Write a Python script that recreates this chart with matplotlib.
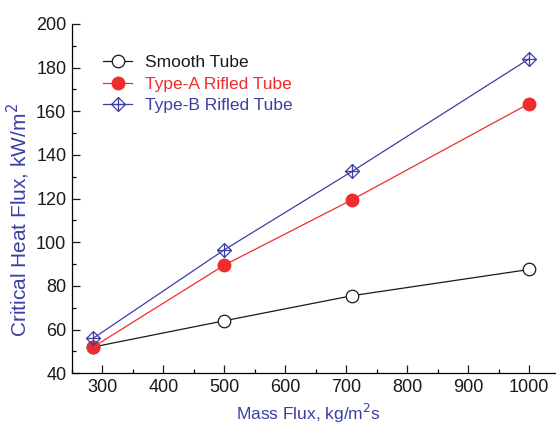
import matplotlib
matplotlib.use("Agg")
import matplotlib.pyplot as plt
from matplotlib.path import Path
from matplotlib.ticker import MultipleLocator

plt.rcParams['font.family'] = ['Liberation Sans', 'DejaVu Sans']

mass_flux = [285, 500, 710, 1000]
smooth = [52, 64, 75.5, 87.5]
type_a = [52, 89.5, 119.5, 163.5]
type_b = [56, 96.5, 132.5, 184]
labels = ["Smooth Tube", "Type-A Rifled Tube", "Type-B Rifled Tube"]

black = "#1a1a1a"
red = "#ee2d2d"
blue = "#3b3fa5"

diamond_plus = Path(
    [(0, 1), (1, 0), (0, -1), (-1, 0), (0, 1), (0, 1), (0, -1), (-1, 0), (1, 0)],
    [Path.MOVETO, Path.LINETO, Path.LINETO, Path.LINETO, Path.CLOSEPOLY,
     Path.MOVETO, Path.LINETO, Path.MOVETO, Path.LINETO])

fig = plt.figure(figsize=(5.57, 4.26), dpi=100)
ax = fig.add_axes([0.129, 0.124, 0.867, 0.82])

ax.plot(mass_flux, smooth, color=black, lw=0.9, marker='o', ms=9,
        mfc='white', mec=black, mew=0.9, label=labels[0])
ax.plot(mass_flux, type_a, color=red, lw=0.9, marker='o', ms=9,
        mfc=red, mec=red, label=labels[1])
ax.plot(mass_flux, type_b, color=blue, lw=0.9, marker=diamond_plus, ms=10,
        mfc='none', mec=blue, mew=0.9, label=labels[2])

ax.set_xlim(250, 1042)
ax.set_ylim(40, 200)
ax.xaxis.set_major_locator(MultipleLocator(100))
ax.xaxis.set_minor_locator(MultipleLocator(50))
ax.yaxis.set_major_locator(MultipleLocator(20))
ax.yaxis.set_minor_locator(MultipleLocator(10))
ax.tick_params(which='major', direction='in', length=6, width=0.9, labelsize=13,
               colors=black, pad=4)
ax.tick_params(which='minor', direction='in', length=3, width=0.9)
ax.spines['top'].set_visible(False)
ax.spines['right'].set_visible(False)
for s in ('left', 'bottom'):
    ax.spines[s].set_linewidth(0.9)

ax.set_xlabel("Mass Flux, kg/m$^2$s", color=blue, fontsize=12.5)
ax.xaxis.set_label_coords(0.49, -0.083)
ax.set_ylabel("Critical Heat Flux, kW/m$^2$", color=blue, fontsize=15)
ax.yaxis.set_label_coords(-0.083, 0.438)

leg = ax.legend(loc='upper left', bbox_to_anchor=(0.05, 0.93), frameon=False,
                fontsize=12.5, handlelength=1.7, handletextpad=0.7,
                labelspacing=0.35, borderaxespad=0.0)
for t, c in zip(leg.get_texts(), [black, red, blue]):
    t.set_color(c)

fig.savefig("out.png", dpi=100)
